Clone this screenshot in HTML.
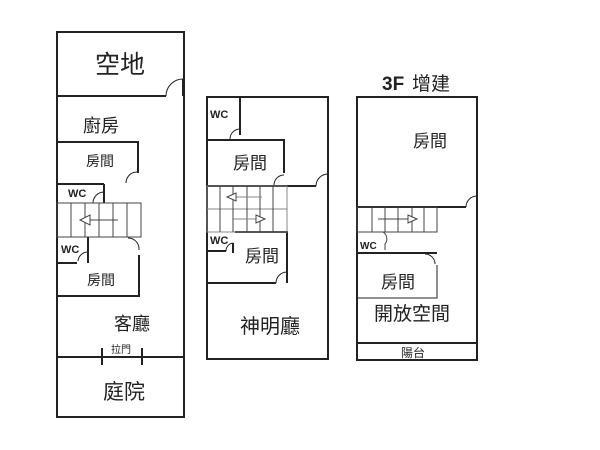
<!DOCTYPE html>
<html><head><meta charset="utf-8"><style>
html,body{margin:0;padding:0;background:#fff;width:600px;height:450px;overflow:hidden}
svg{display:block}
text{font-family:"Liberation Sans","Noto Sans CJK TC",sans-serif;fill:#222}
</style></head><body>
<svg width="600" height="450" viewBox="0 0 600 450" xmlns="http://www.w3.org/2000/svg">
<g fill="none" stroke="#222" stroke-width="2">
<rect x="57" y="32" width="127" height="385"/>
<line x1="57" y1="96" x2="166" y2="96"/>
<line x1="183" y1="79" x2="183" y2="96"/>
<path d="M166 96 A17 17 0 0 1 183 79" stroke-width="1"/>
<polyline points="57,142 138,142 138,173"/>
<path d="M126 183 A11 11 0 0 1 137 172" stroke-width="1"/>
<line x1="57" y1="184" x2="104" y2="184"/>
<line x1="104" y1="184" x2="104" y2="203"/>
<path d="M93 203 A11 11 0 0 1 104 192" stroke-width="1"/>
<line x1="88" y1="237" x2="88" y2="263"/>
<line x1="57" y1="263" x2="77" y2="263"/>
<path d="M78 261 A10 10 0 0 1 87 252" stroke-width="1"/>
<polyline points="57,296 139,296 139,255"/>
<path d="M128 238 A11 11 0 0 1 139 250" stroke-width="1"/>
<line x1="57" y1="357" x2="184" y2="357"/>
<line x1="102" y1="348" x2="102" y2="365"/>
<line x1="142" y1="348" x2="142" y2="365"/>
<rect x="207" y="97" width="121" height="262"/>
<line x1="240" y1="97" x2="240" y2="135"/>
<path d="M230 139 A10 10 0 0 1 240 129" stroke-width="1"/>
<polyline points="207,140 284,140 284,173"/>
<path d="M274 185 A10 10 0 0 1 284 175" stroke-width="1"/>
<line x1="207" y1="186" x2="316" y2="186"/>
<path d="M316 186 A12 12 0 0 1 328 174" stroke-width="1"/>
<polyline points="235,232 287,232 287,283"/>
<line x1="207" y1="251" x2="226" y2="251"/>
<line x1="233" y1="243" x2="233" y2="253"/>
<path d="M226 251 A8 8 0 0 1 233 243" stroke-width="1"/>
<line x1="207" y1="283" x2="276" y2="283"/>
<path d="M276 283 A11 11 0 0 1 287 272" stroke-width="1"/>
<rect x="357" y="97" width="120" height="263"/>
<line x1="357" y1="207" x2="466" y2="207"/>
<path d="M466 207 A11 11 0 0 1 477 196" stroke-width="1"/>
<line x1="357" y1="253" x2="437" y2="253"/>
<polyline points="357,298 437,298 437,265" stroke-width="1"/>
<line x1="357" y1="343" x2="477" y2="343"/>
<path d="M425 254 A10 10 0 0 1 435 264" stroke-width="1"/>
</g>
<g fill="none" stroke="#444" stroke-width="1">
<rect x="57" y="203" width="84" height="34"/>
<line x1="71" y1="203" x2="71" y2="237"/><line x1="85" y1="203" x2="85" y2="237"/>
<line x1="99" y1="203" x2="99" y2="237"/><line x1="113" y1="203" x2="113" y2="237"/>
<line x1="127" y1="203" x2="127" y2="237"/>
<line x1="90" y1="220" x2="118" y2="220"/>
<polygon points="80,220 90,215 90,225" fill="#fff"/>
<rect x="207" y="186" width="80" height="46" stroke="#888"/>
<line x1="207" y1="209" x2="287" y2="209" stroke="#888"/>
<line x1="220" y1="186" x2="220" y2="232"/><line x1="233" y1="186" x2="233" y2="232"/>
<line x1="247" y1="186" x2="247" y2="232"/><line x1="260" y1="186" x2="260" y2="232"/>
<line x1="273" y1="186" x2="273" y2="232"/>
<line x1="236" y1="197" x2="262" y2="197" stroke="#888"/>
<polygon points="227,197 236,193 236,201" fill="#fff"/>
<line x1="232" y1="219" x2="256" y2="219" stroke="#888"/>
<polygon points="265,219 256,215 256,223" fill="#fff"/>
<rect x="357" y="207" width="80" height="25"/>
<line x1="372" y1="207" x2="372" y2="232"/><line x1="385" y1="207" x2="385" y2="232"/>
<line x1="398" y1="207" x2="398" y2="232"/><line x1="412" y1="207" x2="412" y2="232"/>
<line x1="424" y1="207" x2="424" y2="232"/>
<line x1="378" y1="219" x2="408" y2="219"/>
<polygon points="417,219 408,215 408,223" fill="#fff"/>
<path d="M383 232 A8 8 0 0 1 385 244 L385 250"/>
</g>
<g>
<text x="120" y="73" font-size="25" text-anchor="middle">空地</text>
<text x="101" y="132" font-size="18" text-anchor="middle">廚房</text>
<text x="100" y="166" font-size="14" text-anchor="middle" fill="#444">房間</text>
<text x="68" y="197" font-size="11" font-weight="bold">WC</text>
<text x="61" y="253" font-size="11" font-weight="bold">WC</text>
<text x="101" y="285" font-size="14" text-anchor="middle" fill="#444">房間</text>
<text x="132" y="330" font-size="18" text-anchor="middle">客廳</text>
<text x="121" y="353" font-size="10" text-anchor="middle" fill="#444">拉門</text>
<text x="124" y="399" font-size="21" text-anchor="middle">庭院</text>
<text x="210" y="118" font-size="11" font-weight="bold">WC</text>
<text x="250" y="169" font-size="17" text-anchor="middle" fill="#333">房間</text>
<text x="210" y="244" font-size="11" font-weight="bold">WC</text>
<text x="262" y="262" font-size="17" text-anchor="middle" fill="#333">房間</text>
<text x="270" y="333" font-size="20" text-anchor="middle">神明廳</text>
<text x="382" y="90" font-size="19" font-weight="bold">3F</text>
<text x="412" y="90" font-size="19">增建</text>
<text x="430" y="147" font-size="17" text-anchor="middle" fill="#444">房間</text>
<text x="360" y="249" font-size="10" font-weight="bold">WC</text>
<text x="398" y="288" font-size="17" text-anchor="middle" fill="#444">房間</text>
<text x="412" y="320" font-size="19" text-anchor="middle">開放空間</text>
<text x="413" y="357" font-size="12" text-anchor="middle" fill="#444">陽台</text>
</g>
</svg>
</body></html>
